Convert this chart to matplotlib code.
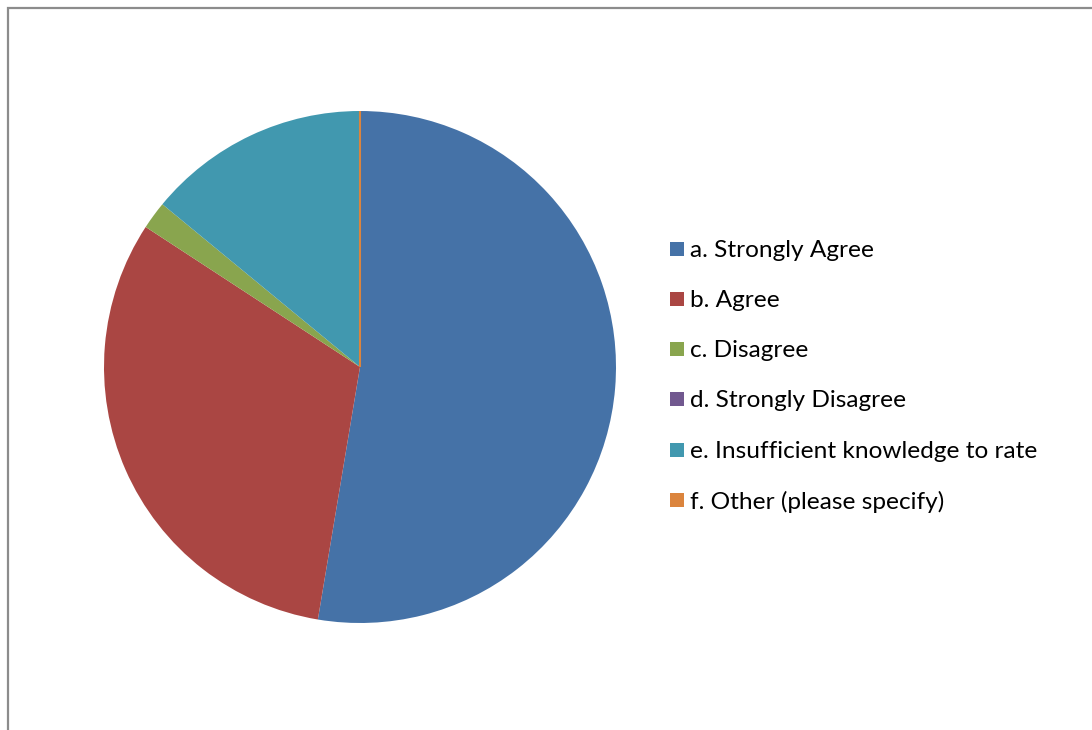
import matplotlib
matplotlib.use("Agg")
import matplotlib.pyplot as plt
from matplotlib.patches import Rectangle

categories = [
    "a. Strongly Agree",
    "b. Agree",
    "c. Disagree",
    "d. Strongly Disagree",
    "e. Insufficient knowledge to rate",
    "f. Other (please specify)",
]
responses = [30, 18, 1, 0, 8, 0]
colors = ["#4572A7", "#AA4643", "#89A54E", "#71588F", "#4198AF", "#DB843D"]

W, H = 1092, 730
fig = plt.figure(figsize=(W / 100, H / 100), dpi=100)
fig.patch.set_facecolor("white")

# chart-area border (top and left edges visible)
fig.patches.append(Rectangle((8 / W, -0.05), 1.2, 1 - 8 / H + 0.05,
                             transform=fig.transFigure, fill=False,
                             edgecolor="#8C8C8C", linewidth=1.6))

cx, cy, r = 360, 367, 256
ax = fig.add_axes([(cx - r) / W, (H - cy - r) / H, 2 * r / W, 2 * r / H])
wedges, _ = ax.pie(responses, colors=colors, startangle=90, counterclock=False,
                   radius=1.0, wedgeprops=dict(linewidth=0))
# zero-valued "Other" slice shows as a thin edge at 12 o'clock
ax.plot([0, 0], [0, 1.0], color=colors[5], linewidth=1.5, solid_capstyle="butt")
ax.set_xlim(-1, 1)
ax.set_ylim(-1, 1)
ax.set_aspect("equal")
ax.axis("off")

# legend
row_y = [249, 299, 349, 399, 450, 500]
for label, col, y in zip(categories, colors, row_y):
    fig.patches.append(Rectangle((670 / W, (H - y - 7) / H), 14 / W, 14 / H,
                                 transform=fig.transFigure, facecolor=col,
                                 edgecolor="none"))
    fig.text(690 / W, (H - y - 1.5) / H, label, fontsize=17.6, family=["Lato", "DejaVu Sans"],
             va="center", ha="left", color="#000000")

fig.savefig("out.png", dpi=100, facecolor="white")
